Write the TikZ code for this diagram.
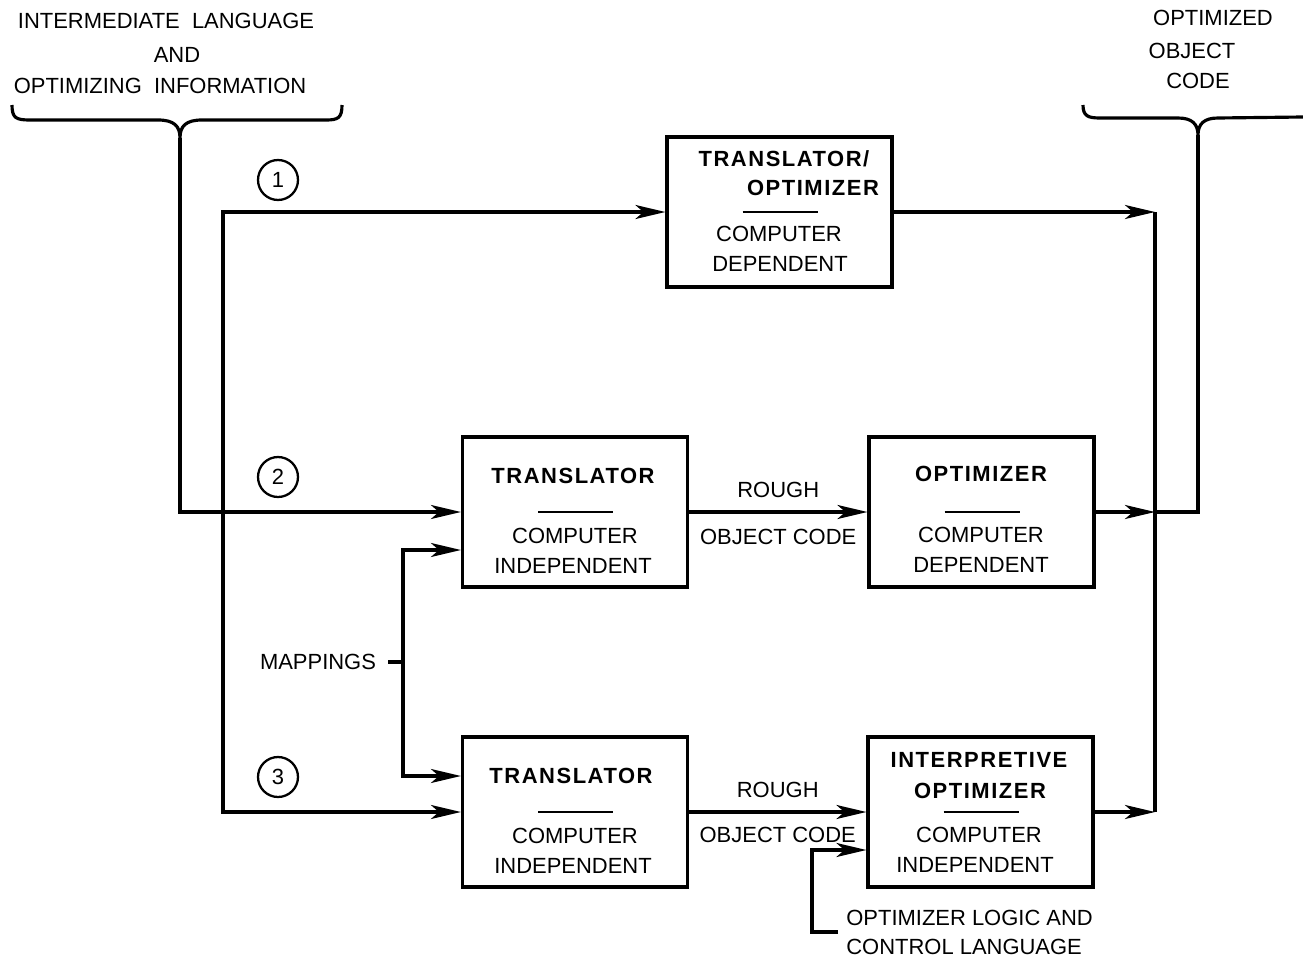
\documentclass[tikz,border=0pt]{standalone}
\usepackage{fontspec}
\setmainfont{Liberation Sans}[BoldFeatures={LetterSpace=7}]
\usetikzlibrary{arrows.meta,calc}
\tikzset{
  box/.style={draw,line width=1.8pt,minimum width=4.5cm,minimum height=3cm,inner sep=0pt},
  txt/.style={font=\fontsize{12.5}{15}\selectfont,text height=9pt,text depth=0pt,inner sep=0pt},
  ttl/.style={txt,font=\fontsize{12.5}{15}\selectfont\bfseries},
  num/.style={draw,circle,line width=1.3pt,minimum size=0.8cm,inner sep=0pt,font=\fontsize{12.5}{15}\selectfont},
  ln/.style={line width=1.8pt},
  arr/.style={ln,-{Stealth[length=6mm,width=2.8mm,inset=1.6mm]}}
}
\begin{document}
\begin{tikzpicture}[x=0.02cm,y=-0.02cm]
\useasboundingbox (0,0) rectangle (1303,960);
% boxes
\node[box] (to) at (779.5,212) {};
\node[box] (tr2) at (575,512) {};
\node[box] (opt) at (981.5,512) {};
\node[box] (tr3) at (575,812) {};
\node[box] (iopt) at (980.5,812) {};
\foreach \b in {to,tr2,opt,tr3,iopt}
  \draw[line width=0.9pt] ($(\b.center)+(-37,0)$) -- ++(75,0);
% box texts
\node[ttl] (toa) at (784,159) {TRANSLATOR/};
\node[ttl] (tob) at (813,188) {OPTIMIZER};
\node[txt] (toc) at (779,234) {COMPUTER};
\node[txt] (tod) at (780,264) {DEPENDENT};
\node[ttl] (tr2a) at (573,476) {TRANSLATOR};
\node[txt] (tr2b) at (575,536) {COMPUTER};
\node[txt] (tr2c) at (573,566) {INDEPENDENT};
\node[ttl] (opta) at (981,474) {OPTIMIZER};
\node[txt] (optb) at (981,535) {COMPUTER};
\node[txt] (optc) at (981,565) {DEPENDENT};
\node[ttl] (tr3a) at (571,776) {TRANSLATOR};
\node[txt] (tr3b) at (575,836) {COMPUTER};
\node[txt] (tr3c) at (573,866) {INDEPENDENT};
\node[ttl] (iopta) at (979,760) {INTERPRETIVE};
\node[ttl] (ioptb) at (980,791) {OPTIMIZER};
\node[txt] (ioptc) at (979,835) {COMPUTER};
\node[txt] (ioptd) at (975,865) {INDEPENDENT};
% circled numbers
\node[num] (c1) at (278,180) {1};
\node[num] (c2) at (278,477) {2};
\node[num] (c3) at (278,777) {3};
% input
\node[txt] (inA) at (166,21) {INTERMEDIATE \ LANGUAGE};
\node[txt] (inB) at (177,55) {AND};
\node[txt] (inC) at (160,86) {OPTIMIZING \ INFORMATION};
\coordinate (inL) at (180,138);
\draw[ln] (12,105) .. controls (12,118) and (16,120) .. (30,120) -- (158,120)
  .. controls (174,120) and (180,126) .. (inL)
  .. controls (180,126) and (186,120) .. (202,120) -- (326,120)
  .. controls (338,120) and (342,118) .. (342,105);
\draw[arr] (inL) |- (tr2.west);
\coordinate (split) at (223,512);
\draw[arr] (split) |- (to.west);
\draw[arr] (split) |- (tr3.west);
% mappings
\node[txt] (map) at (318,662) {MAPPINGS};
\coordinate (mapj) at (403,662);
\coordinate (m2) at ($(tr2.west)+(0,38)$);
\coordinate (m3) at ($(tr3.west)+(0,-36)$);
\draw[ln] ($(map.east)+(12,0)$) -- (mapj);
\draw[arr] (mapj) |- (m2);
\draw[arr] (mapj) |- (m3);
% rough object code
\draw[arr] (tr2) -- node[txt,above=0.26cm] (rgh2) {ROUGH} node[txt,below=0.3cm] (obj2) {OBJECT CODE} (opt);
\draw[arr] (tr3) -- node[txt,above=0.26cm] (rgh3) {ROUGH} node[txt,below=0.26cm] (obj3) {OBJECT CODE} (iopt);
% optimizer logic
\node[txt,anchor=west] (lgA) at (846,918) {OPTIMIZER LOGIC AND};
\node[txt,anchor=west] (lgB) at (846,947) {CONTROL LANGUAGE};
\coordinate (lg) at (838,932);
\coordinate (lgin) at ($(iopt.west)+(0,38)$);
\draw[arr] (lg) -- ++(-26,0) |- (lgin);
% output
\coordinate (r1) at (1155,212);
\coordinate (r2) at (1155,512);
\coordinate (r3) at (1155,812);
\coordinate (outR) at (1198,135);
\draw[arr] (to) -- (r1);
\draw[arr] (opt) -- (r2);
\draw[arr] (iopt) -- (r3);
\draw[ln] (r1) -- (r3);
\draw[ln] (r2) -| (outR);
\draw[ln] (1083,105) .. controls (1083,116) and (1088,118) .. (1100,118) -- (1178,118)
  .. controls (1192,118) and (1198,124) .. (outR)
  .. controls (1198,124) and (1204,118) .. (1218,118) -- (1303,117);
\node[txt] (outA) at (1213,18) {OPTIMIZED};
\node[txt] (outB) at (1192,51) {OBJECT};
\node[txt] (outC) at (1198,81) {CODE};
\end{tikzpicture}
\end{document}
